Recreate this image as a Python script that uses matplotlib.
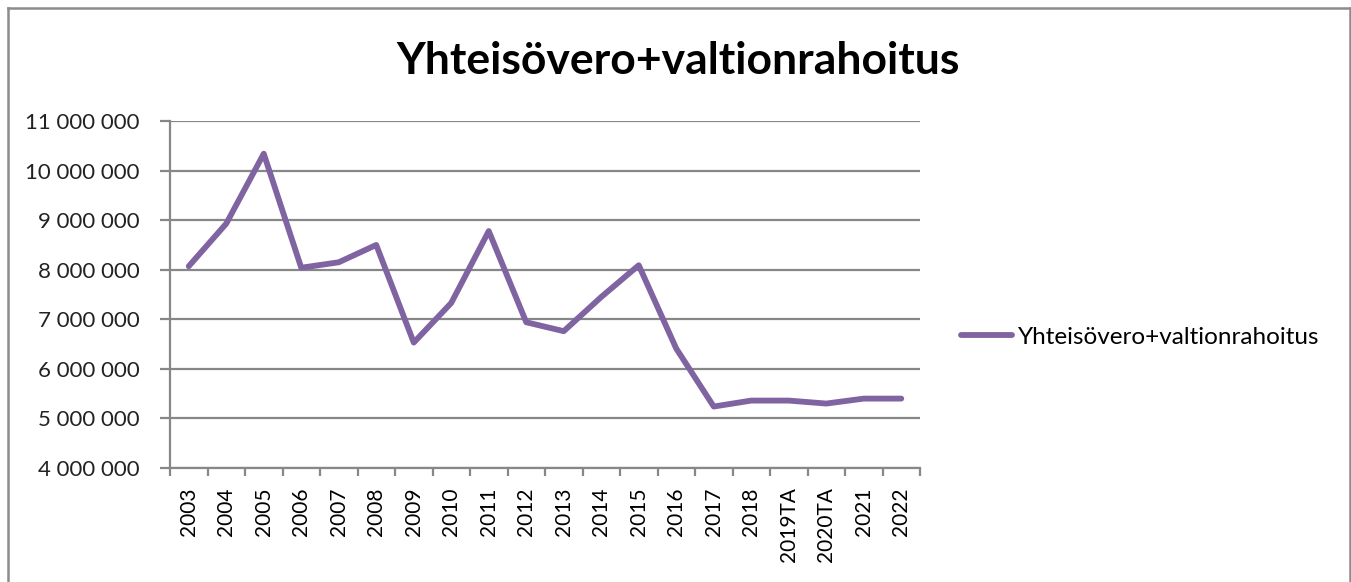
import matplotlib
matplotlib.use("Agg")
import matplotlib.pyplot as plt
from matplotlib.lines import Line2D
from matplotlib.ticker import FuncFormatter, FixedLocator
import numpy as np

categories = ["2003", "2004", "2005", "2006", "2007", "2008", "2009", "2010", "2011", "2012",
              "2013", "2014", "2015", "2016", "2017", "2018", "2019TA", "2020TA", "2021", "2022"]
values = [8070000, 8930000, 10340000, 8040000, 8150000, 8500000, 6530000, 7330000, 8780000, 6940000,
          6760000, 7450000, 8090000, 6410000, 5240000, 5360000, 5360000, 5300000, 5400000, 5400000]
series_name = "Yhteisövero+valtionrahoitus"
title = "Yhteisövero+valtionrahoitus"
yticks = [4000000, 5000000, 6000000, 7000000, 8000000, 9000000, 10000000, 11000000]

plt.rcParams['font.family'] = ['Lato', 'DejaVu Sans']
W, H = 1351, 582
fig = plt.figure(figsize=(W / 100, H / 100), dpi=100)
ax = fig.add_axes([170 / W, 1 - 468 / H, (920 - 170) / W, (468 - 121) / H])

x = np.arange(len(categories))
ax.plot(x, values, color="#8064A2", lw=4.2, solid_capstyle="round", solid_joinstyle="round",
        label=series_name, zorder=3)

grid_c = "#878787"
ax.set_ylim(4000000, 11000000)
ax.set_yticks(yticks)
ax.yaxis.set_major_formatter(FuncFormatter(lambda v, p: f"{int(v):,}".replace(",", " ")))
ax.yaxis.grid(True, color=grid_c, lw=1.6)
ax.set_axisbelow(True)

ax.set_xlim(-0.5, len(categories) - 0.5)
ax.set_xticks(x)
ax.set_xticklabels(categories, rotation=90)
ax.xaxis.set_minor_locator(FixedLocator(np.arange(-0.5, len(categories), 1.0)))
ax.tick_params(axis="x", which="major", length=0, pad=14, labelsize=15, colors="black")
ax.tick_params(axis="x", which="minor", length=6, width=1.6, color=grid_c)
ax.tick_params(axis="y", which="major", length=7, width=1.6, color=grid_c, labelsize=16, pad=15)
for lbl in ax.get_yticklabels():
    lbl.set_color("#222222")

for s in ["top", "right"]:
    ax.spines[s].set_visible(False)
for s in ["left", "bottom"]:
    ax.spines[s].set_color(grid_c)
    ax.spines[s].set_linewidth(1.6)

fig.text(678 / W, 1 - 61 / H, title, ha="center", va="center", fontsize=32, fontweight="bold")

leg = fig.legend(loc="center left", bbox_to_anchor=(939 / W, 1 - 337 / H), frameon=False,
                 fontsize=17.5, handlelength=2.1, handletextpad=0.25)

# chart border
bc = "#8c8c8c"
fig.add_artist(Line2D([7.5 / W, 7.5 / W], [0, 1 - 8 / H], color=bc, lw=1.8, transform=fig.transFigure))
fig.add_artist(Line2D([7.5 / W, 1349.5 / W], [1 - 8 / H, 1 - 8 / H], color=bc, lw=1.8, transform=fig.transFigure))
fig.add_artist(Line2D([1349.5 / W, 1349.5 / W], [0, 1 - 8 / H], color=bc, lw=1.8, transform=fig.transFigure))

fig.savefig("out.png", dpi=100)
